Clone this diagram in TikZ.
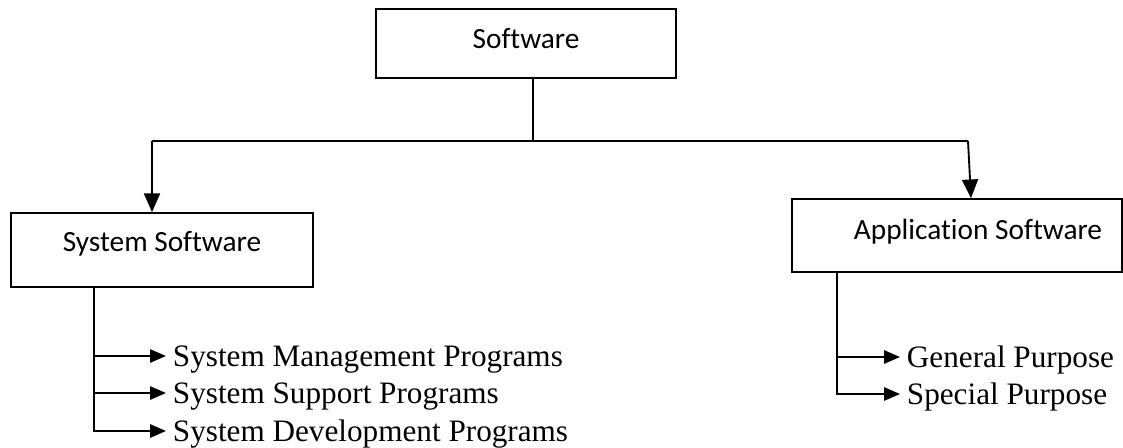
\documentclass[tikz,border=0pt]{standalone}
\usepackage{fontspec}
\setmainfont{Liberation Serif}
\newfontfamily\boxfont[Ligatures=NoCommon]{Carlito}
\usetikzlibrary{positioning,arrows.meta,calc}

\begin{document}
\begin{tikzpicture}[
    x=0.75pt, y=-0.75pt,
    box/.style={draw, line width=1.3pt, inner sep=0pt, text height=16pt, font=\boxfont\fontsize{22}{26}\selectfont},
    item/.style={anchor=west, inner xsep=5pt, inner ysep=0pt, text height=16pt, text depth=0pt, font=\fontsize{23.4}{27}\selectfont},
    link/.style={line width=1.4pt},
    arr/.style={-{Triangle[length=14pt,width=12pt]}, line width=1.4pt},
    sarr/.style={-{Triangle[length=12pt,width=10pt]}, line width=1.4pt}
]
\useasboundingbox (0,0) rectangle (1123,447);

% boxes
\node[box, minimum width=225pt, minimum height=51.75pt, text depth=8.6pt] (sw) at (526,43.5) {Software};
\node[box, minimum width=226.5pt, minimum height=55.5pt, text depth=14pt] (sys) at (162,250) {System Software};
\node[box, minimum width=247.5pt, minimum height=54.75pt, text depth=10pt] (app) at (957,235.5) {\hspace*{31.5pt}Application Software};

% program lists
\node[item] (sm) at (166,356) {System Management Programs};
\node[item] (ss) at (166,393) {System Support Programs};
\node[item] (sd) at (166,431) {System Development Programs};
\node[item] (gp) at (900,357) {General Purpose};
\node[item] (sp) at (900,394) {Special Purpose};

% tree
\coordinate (hub) at (533,141);
\coordinate (lft) at (152,141);
\coordinate (rgt) at (968,141);
\draw[link] (hub |- sw.south) -- (hub);
\draw[link] (lft) -- (rgt);
\draw[arr] (lft) -- (lft |- sys.north);
\draw[arr] (rgt) -- ([xshift=10.5pt]app.north);

\coordinate (sroot) at ([xshift=-51pt]sys.south);
\draw[sarr] (sroot |- sm.west) -- (sm.west);
\draw[sarr] (sroot |- ss.west) -- (ss.west);
\draw[sarr] (sroot) |- (sd.west);

\coordinate (aroot) at ([xshift=-90pt]app.south);
\draw[sarr] (aroot |- gp.west) -- (gp.west);
\draw[sarr] (aroot) |- (sp.west);
\end{tikzpicture}
\end{document}
